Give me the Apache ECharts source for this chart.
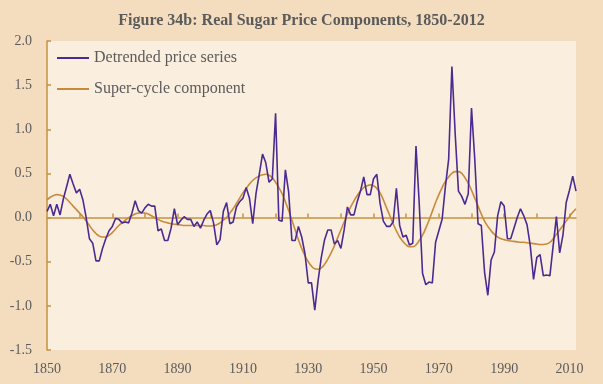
<!DOCTYPE html>
<html>
<head>
<meta charset="utf-8">
<script src="https://cdn.jsdelivr.net/npm/echarts@6/dist/echarts.min.js"></script>
<style>
  html, body { margin: 0; padding: 0; background: #F4DDBF; }
  #chart { width: 603px; height: 384px; }
</style>
</head>
<body>
<div id="chart"></div>
<script>
// Years covered by both series
const firstYear = 1850;
const lastYear = 2012;

// Detrended real sugar price, one value per year from 1850 to 2012
const detrended = [
  0.07, 0.15, 0.02, 0.15, 0.03, 0.21, 0.35, 0.49, 0.38, 0.28,   // 1850s
  0.32, 0.20, 0.00, -0.24, -0.29, -0.49, -0.49, -0.35, -0.24, -0.15, // 1860s
  -0.10, -0.01, -0.02, -0.06, -0.05, -0.06, 0.05, 0.19, 0.08, 0.05, // 1870s
  0.11, 0.15, 0.13, 0.13, -0.15, -0.13, -0.26, -0.26, -0.12, 0.10, // 1880s
  -0.08, -0.03, 0.01, -0.02, -0.02, -0.10, -0.05, -0.12, -0.03, 0.04, // 1890s
  0.08, -0.06, -0.31, -0.25, 0.07, 0.17, -0.07, -0.05, 0.12, 0.18, // 1900s
  0.22, 0.34, 0.22, -0.07, 0.27, 0.49, 0.72, 0.62, 0.40, 0.44,   // 1910s
  1.18, -0.03, -0.04, 0.54, 0.29, -0.26, -0.26, -0.10, -0.22, -0.41, // 1920s
  -0.74, -0.74, -1.05, -0.72, -0.45, -0.25, -0.14, -0.14, -0.30, -0.26, // 1930s
  -0.35, -0.14, 0.12, 0.03, 0.03, 0.18, 0.30, 0.46, 0.26, 0.26,  // 1940s
  0.44, 0.49, 0.16, -0.04, -0.10, -0.10, -0.05, 0.33, -0.09, -0.22, // 1950s
  -0.20, -0.31, -0.29, 0.81, 0.15, -0.63, -0.76, -0.73, -0.74, -0.28, // 1960s
  -0.15, -0.02, 0.35, 0.66, 1.71, 0.95, 0.30, 0.24, 0.15, 0.27,  // 1970s
  1.24, 0.66, -0.07, -0.09, -0.62, -0.88, -0.48, -0.39, 0.02, 0.18, // 1980s
  0.13, -0.24, -0.24, -0.12, 0.00, 0.10, 0.02, -0.08, -0.32, -0.70, // 1990s
  -0.45, -0.42, -0.66, -0.65, -0.66, -0.32, 0.01, -0.40, -0.20, 0.17, // 2000s
  0.31, 0.47, 0.30                                                // 2010-2012
];

// Long-cycle (super-cycle) component, one value per year from 1850 to 2012
const superCycle = [
  0.20, 0.23, 0.25, 0.26, 0.255, 0.24, 0.21, 0.17, 0.13, 0.09,   // 1850s
  0.05, 0.01, -0.04, -0.09, -0.14, -0.18, -0.21, -0.22, -0.22, -0.20, // 1860s
  -0.17, -0.13, -0.09, -0.06, -0.03, 0.00, 0.02, 0.04, 0.05, 0.055, // 1870s
  0.05, 0.04, 0.02, 0.00, -0.02, -0.04, -0.05, -0.06, -0.07, -0.075, // 1880s
  -0.08, -0.085, -0.09, -0.09, -0.09, -0.09, -0.09, -0.09, -0.09, -0.095, // 1890s
  -0.095, -0.09, -0.08, -0.06, -0.03, 0.00, 0.05, 0.10, 0.16, 0.22, // 1900s
  0.28, 0.33, 0.38, 0.42, 0.45, 0.47, 0.485, 0.49, 0.48, 0.45,   // 1910s
  0.40, 0.34, 0.27, 0.18, 0.08, -0.03, -0.14, -0.25, -0.35, -0.43, // 1920s
  -0.50, -0.55, -0.58, -0.585, -0.57, -0.53, -0.47, -0.40, -0.32, -0.23, // 1930s
  -0.14, -0.05, 0.04, 0.12, 0.19, 0.25, 0.30, 0.34, 0.36, 0.37,  // 1940s
  0.36, 0.33, 0.28, 0.20, 0.11, 0.02, -0.07, -0.15, -0.22, -0.27, // 1950s
  -0.31, -0.33, -0.33, -0.31, -0.26, -0.20, -0.12, -0.03, 0.07, 0.17, // 1960s
  0.26, 0.34, 0.41, 0.46, 0.50, 0.52, 0.52, 0.50, 0.45, 0.39,    // 1970s
  0.31, 0.22, 0.13, 0.04, -0.04, -0.10, -0.15, -0.19, -0.22, -0.24, // 1980s
  -0.25, -0.26, -0.265, -0.27, -0.275, -0.28, -0.28, -0.285, -0.29, -0.295, // 1990s
  -0.30, -0.305, -0.305, -0.30, -0.28, -0.24, -0.19, -0.14, -0.09, -0.04, // 2000s
  0.01, 0.06, 0.10                                                // 2010-2012
];

// Axis marks
const xTickYears = [1860, 1870, 1880, 1890, 1900, 1910, 1920, 1930, 1940, 1950,
                    1960, 1970, 1980, 1990, 2000, 2010];
const xLabelYears = [1850, 1870, 1890, 1910, 1930, 1950, 1970, 1990, 2010];
const yMin = -1.5, yMax = 2.0, yStep = 0.5;

const seriesNames = ['Detrended price series', 'Super-cycle component'];
const titleText = 'Figure 34b: Real Sugar Price Components, 1850-2012';

const withYears = arr => arr.map((v, i) => [firstYear + i, v]);

const axisColor = '#C8913F';
const textColor = '#5B5B5B';
const serif = '"Liberation Serif", "DejaVu Serif", serif';

const chart = echarts.init(document.getElementById('chart'), null, { renderer: 'canvas' });

chart.setOption({
  backgroundColor: '#F4DDBF',
  animation: false,
  title: {
    text: titleText,
    left: 'center',
    top: 8,
    textStyle: { fontFamily: serif, fontSize: 16, fontWeight: 'bold', color: textColor }
  },
  legend: {
    data: seriesNames,
    orient: 'vertical',
    left: 57,
    top: 50,
    padding: 0,
    icon: 'rect',
    itemWidth: 32,
    itemHeight: 2,
    itemGap: 15,
    textStyle: { fontFamily: serif, fontSize: 16, color: textColor }
  },
  grid: {
    left: 47, right: 27, top: 41, bottom: 34,
    show: true, backgroundColor: '#FAEEDF', borderWidth: 0,
    outerBoundsMode: 'none'
  },
  xAxis: [
    {
      // zero line with decade ticks
      type: 'value', min: firstYear, max: lastYear, position: 'bottom',
      axisLine: { show: true, onZero: true, lineStyle: { color: axisColor, width: 1.5 } },
      axisTick: { show: true, inside: true, length: 4, customValues: xTickYears,
                  lineStyle: { color: axisColor, width: 1.5 } },
      axisLabel: { show: false },
      splitLine: { show: false }
    },
    {
      // year labels along the bottom edge
      type: 'value', min: firstYear, max: lastYear, position: 'bottom',
      axisLine: { show: false, onZero: false },
      axisTick: { show: false },
      axisLabel: { show: true, customValues: xLabelYears, margin: 12,
                   fontFamily: serif, fontSize: 14, color: textColor,
                   formatter: v => String(v) },
      splitLine: { show: false }
    }
  ],
  yAxis: {
    type: 'value', min: yMin, max: yMax, interval: yStep,
    axisLine: { show: true, lineStyle: { color: axisColor, width: 1.5 } },
    axisTick: { show: true, inside: true, length: 4, lineStyle: { color: axisColor, width: 1.5 } },
    axisLabel: { margin: 15, fontFamily: serif, fontSize: 14, color: textColor,
                 formatter: v => v.toFixed(1) },
    splitLine: { show: false }
  },
  series: [
    {
      name: seriesNames[1], type: 'line', xAxisIndex: 0,
      data: withYears(superCycle), smooth: true, symbol: 'none',
      lineStyle: { color: '#C98A3B', width: 1.6 }, itemStyle: { color: '#C98A3B' }, z: 3
    },
    {
      name: seriesNames[0], type: 'line', xAxisIndex: 0,
      data: withYears(detrended), symbol: 'none',
      lineStyle: { color: '#4B2B91', width: 1.6 }, itemStyle: { color: '#4B2B91' }, z: 4
    }
  ]
});
</script>
</body>
</html>
